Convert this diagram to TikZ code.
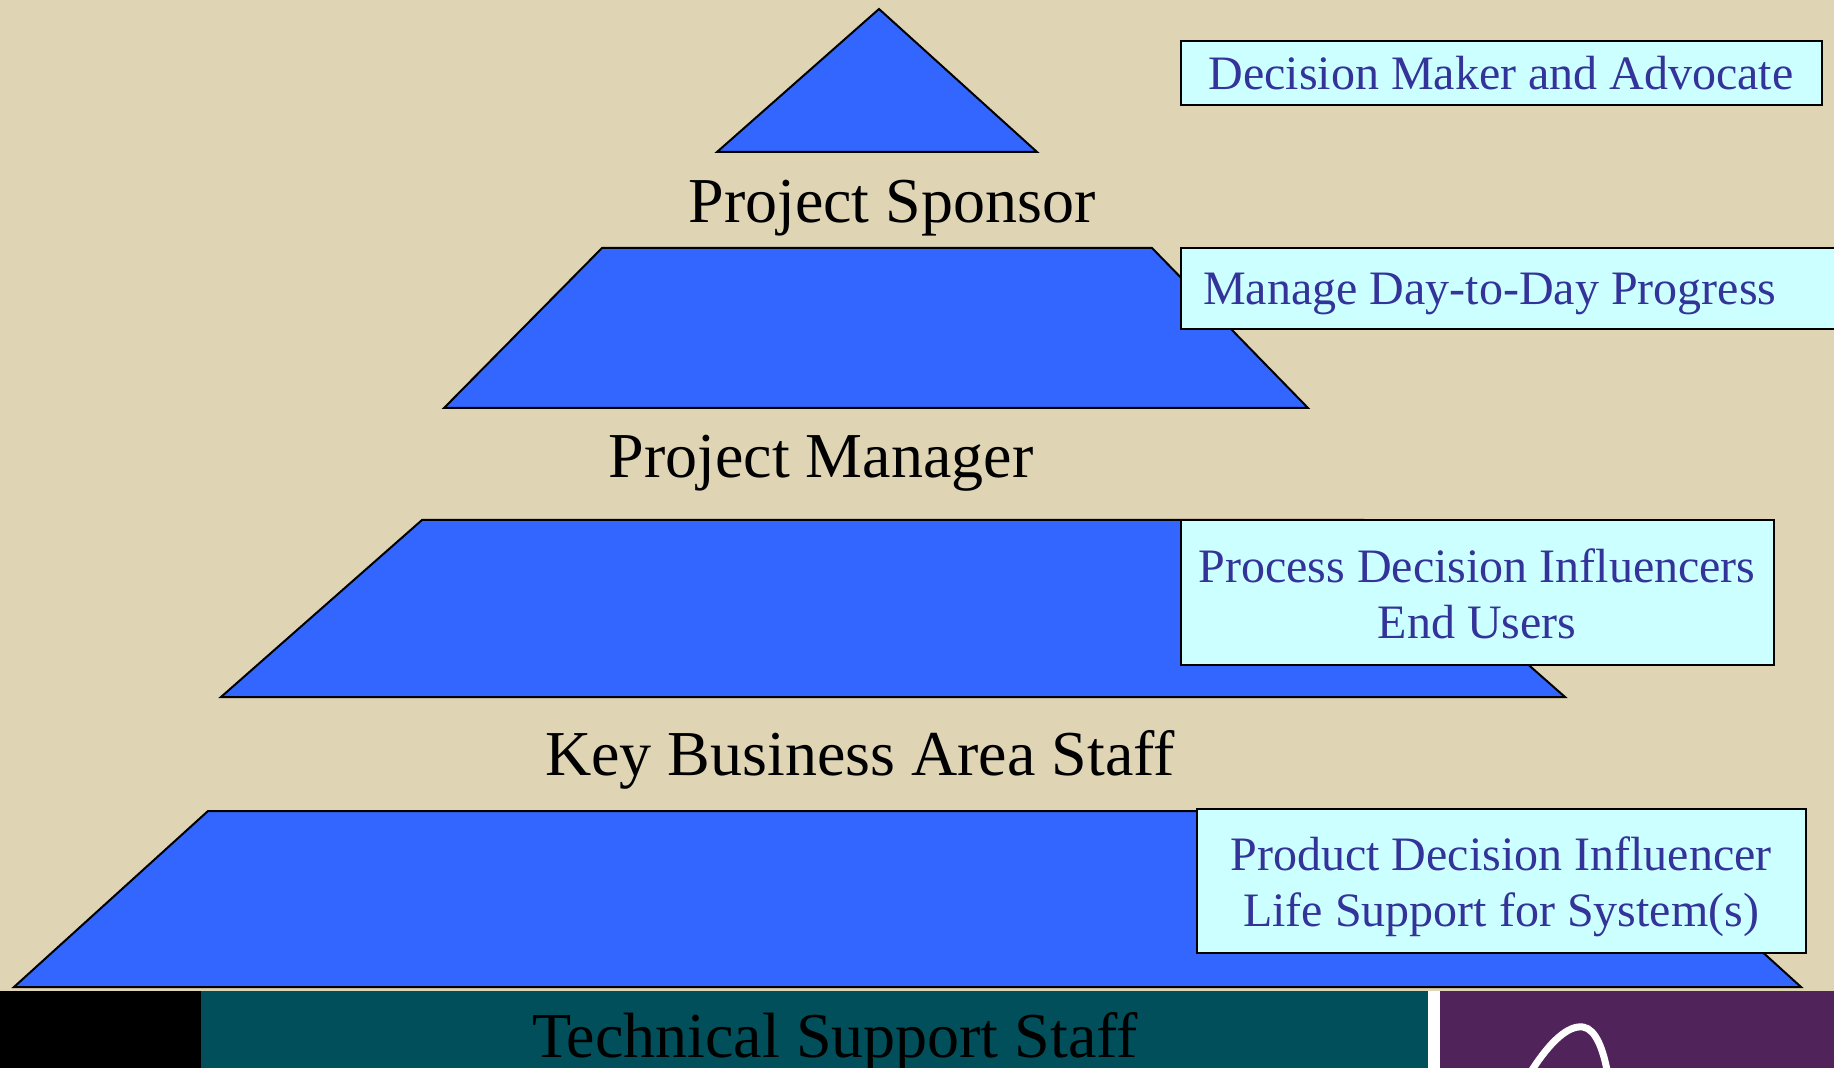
\documentclass[tikz,border=0pt]{standalone}
\usepackage{fontspec}
\setmainfont{Liberation Serif}

\definecolor{sand}{RGB}{223,213,181}
\definecolor{tierblue}{RGB}{51,102,255}
\definecolor{notecyan}{RGB}{204,255,255}
\definecolor{noteink}{RGB}{51,51,153}
\definecolor{stripteal}{RGB}{0,79,90}
\definecolor{strippurple}{RGB}{80,36,90}

\tikzset{every picture/.style={line width=0.75pt}}
\tikzset{
  tier/.style={fill=tierblue,draw=black,line width=1pt},
  notebox/.style={fill=notecyan,draw=black,line width=1.2pt},
  tiername/.style={anchor=base,inner sep=0.75pt,font=\fontsize{32}{38}\selectfont},
  notetext/.style={anchor=base,inner sep=0.75pt,align=center,text=noteink,font=\fontsize{24}{28}\selectfont}
}

\begin{document}
\begin{tikzpicture}[x=0.5pt,y=0.5pt,yscale=-1,xscale=1]
%set diagram left start at 0, and has height of 1068
\useasboundingbox (0,0) rectangle (1834,1068);
\clip (0,0) rectangle (1834,1068);
\fill [sand] (0,0) rectangle (1834,1068);

%Shape: Triangle [id:sponsor]
\draw [tier] (879,9) -- (1037,152) -- (717,152) -- cycle ;
%Shape: Trapezoid [id:manager]
\draw [tier] (602,248) -- (1152,248) -- (1308,408) -- (444,408) -- cycle ;
%Shape: Trapezoid [id:business]
\draw [tier] (422,520) -- (1364,520) -- (1565,697) -- (221,697) -- cycle ;
%Shape: Trapezoid [id:technical]
\draw [tier] (208,811) -- (1607,811) -- (1801,987) -- (14,987) -- cycle ;

%Shape: Rectangle [id:strip]
\fill [black] (0,991) rectangle (201,1068) ;
\fill [stripteal] (201,991) rectangle (1428,1068) ;
\fill [white] (1428,991) rectangle (1440,1068) ;
\fill [strippurple] (1440,991) rectangle (1834,1068) ;
%Curve Lines [id:swoosh]
\draw [white,line width=3.5pt,line cap=round] (1532,1070) .. controls (1550,1042) and (1568,1025) .. (1583,1027) .. controls (1596,1029) and (1603,1050) .. (1607,1070) ;

%Shape: Rectangle [id:notes]
\draw [notebox] (1181,41) rectangle (1822,105) ;
\draw [notebox] (1181,248) rectangle (1845,329) ;
\draw [notebox] (1181,520) rectangle (1774,665) ;
\draw [notebox] (1197,809) rectangle (1806,953) ;

% Text Node
\draw (892,223) node (sponsorlbl) [tiername] {Project Sponsor};
% Text Node
\draw (821,478) node (managerlbl) [tiername] {Project Manager};
% Text Node
\draw (860,775) node (businesslbl) [tiername] {Key Business Area Staff};
% Text Node
\draw (835,1057) node (technicallbl) [tiername] {Technical Support Staff};

% Text Node
\draw (1501,90) node (advocatenote) [notetext] {Decision Maker and Advocate};
% Text Node
\draw (1201,305) node (progressnote) [notetext,anchor=base west] {Manage Day-to-Day Progress};
% Text Node (base is the last line)
\draw (1477,638) node (processnote) [notetext] {Process Decision Influencers\\End Users};
% Text Node (base is the last line)
\draw (1501,926) node (productnote) [notetext] {Product Decision Influencer\\Life Support for System(s)};

\end{tikzpicture}
\end{document}
